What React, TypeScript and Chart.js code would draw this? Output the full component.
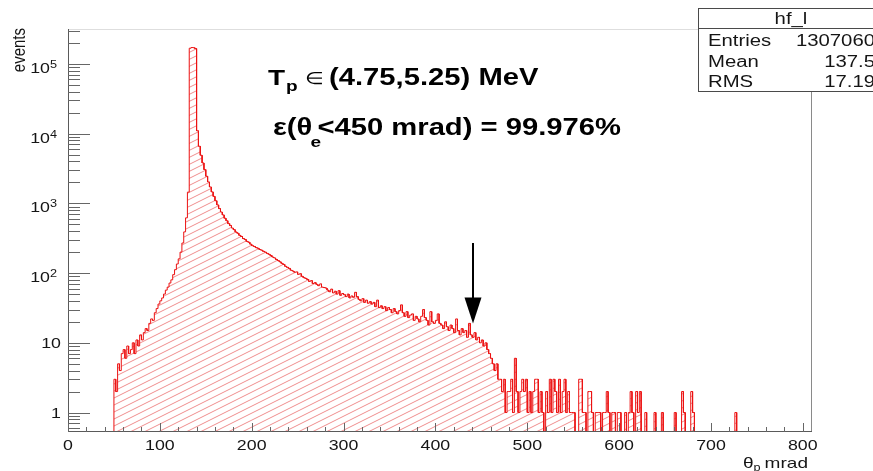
import { useEffect, useRef } from 'react';
import { Chart, registerables } from 'chart.js';

Chart.register(...registerables);

// ---- histogram binning (theta_p in mrad) ----
const BIN_WIDTH = 2;
const X_RANGE = [0, 810];
const Y_RANGE = [0.526, 3.17e5];

// counts per 2 mrad bin; each segment starts at its first bin's low edge
const risingStart = 50;
const risingCounts = [
  3, 2, 5, 4, 7, 8, 6, 9, 7, 8,
  10, 7, 11, 9, 13, 11, 14, 16, 15, 19,
  22, 21, 27, 31, 36, 40, 44, 50, 57, 63,
  72, 80, 95, 112, 135, 160, 200, 270, 390, 620,
  1450,
];
const peakStart = 132;
const peakCounts = [168000, 172000, 171000, 166000];
const shoulderStart = 140;
const shoulderCounts = [
  11000, 6600, 4900, 3800, 3050, 2450, 2030, 1720, 1460, 1260,
  1090, 950, 842, 752, 683, 612, 563, 512, 480, 443,
  420, 389, 373, 348, 335, 313, 304, 285, 277, 260,
];
const plateauStart = 200;
const plateauCounts = [
  247, 241, 232, 227, 218, 213, 205, 200, 192, 186,
  179, 170, 165, 157, 151, 145, 138, 133, 125, 121,
  117, 110, 107, 103, 104, 96, 98, 90, 86, 84,
  81, 76, 78, 71, 73, 69, 66, 70, 63, 62,
  61, 57, 54, 59, 52, 55, 50, 56, 48, 51,
];
const falloffStart = 300;
const falloffCounts = [
  49, 46, 50, 44, 47, 45, 53, 46, 42, 40,
  43, 38, 41, 37, 39, 36, 38, 33, 41, 32,
  34, 31, 33, 29, 32, 30, 27, 31, 28, 26,
  29, 35, 27, 24, 28, 23, 25, 26, 21, 24,
  22, 20, 24, 30, 23, 21, 18, 28, 20, 19,
  21, 26, 19, 18, 16, 20, 17, 15, 18, 16,
  14, 22, 15, 13, 16, 14, 15, 12, 19, 13,
  12, 14, 11, 12, 10, 11, 9, 10, 8, 7,
  6, 5,
];
// sparse tail: [bin low edge, count]
const tailBins: [number, number][] = [
  [464, 4], [466, 5], [468, 3], [470, 3], [472, 2], [474, 3], [476, 1], [478, 2],
  [480, 2], [482, 3], [484, 1], [486, 6], [488, 2], [490, 1], [492, 2], [494, 3],
  [496, 2], [498, 3], [500, 1], [502, 2], [504, 1], [506, 2], [508, 3], [510, 3],
  [512, 1], [514, 2], [516, 1], [520, 2], [522, 1], [524, 3], [526, 1], [528, 3],
  [530, 2], [532, 1], [534, 3], [536, 1], [538, 2], [540, 3], [542, 1], [544, 2],
  [546, 1], [548, 1], [550, 1], [556, 3], [558, 3], [560, 1], [562, 1], [566, 2],
  [568, 2], [570, 1], [574, 1], [576, 1], [578, 1], [582, 1], [584, 1], [586, 2],
  [588, 1], [592, 1], [594, 1], [598, 1], [600, 1], [606, 1], [610, 1], [612, 2],
  [614, 1], [618, 2], [620, 1], [622, 2], [628, 1], [638, 1], [646, 1], [660, 1],
  [668, 2], [670, 1], [678, 2], [680, 1], [726, 1],
];

// ---- axes ----
const X_TICKS = [0, 100, 200, 300, 400, 500, 600, 700, 800];
const X_TICK_LABELS = ['0', '100', '200', '300', '400', '500', '600', '700', '800'];
const X_MINOR_STEP = 20;
const Y_DECADES = [0, 1, 2, 3, 4, 5];
const SUPERSCRIPTS = ['⁰', '¹', '²', '³', '⁴', '⁵'];
const Y_TITLE = 'events';

// ---- annotations ----
const STATS_TITLE = 'hf_l';
const STATS_ROWS: [string, string][] = [
  ['Entries', '1307060'],
  ['Mean', '137.5'],
  ['RMS', '17.19'],
];
const CUT_ARROW_X = 441;
const CUT_ARROW_FROM = 270;
const CUT_ARROW_TO = 19;

const FAMILY = "'Liberation Sans', Arial, Helvetica, sans-serif";
const SX = 1.27; // horizontal text stretch
const LINE_COLOR = '#ec1212';
const HATCH_COLOR = 'rgba(230, 84, 84, 0.66)';
const TEXT_COLOR = '#151515';

function buildCounts(): number[] {
  const n = Math.round((X_RANGE[1] - X_RANGE[0]) / BIN_WIDTH);
  const c: number[] = new Array(n).fill(0);
  const place = (start: number, arr: number[]) =>
    arr.forEach((v, i) => {
      c[Math.round((start - X_RANGE[0]) / BIN_WIDTH) + i] = v;
    });
  place(risingStart, risingCounts);
  place(peakStart, peakCounts);
  place(shoulderStart, shoulderCounts);
  place(plateauStart, plateauCounts);
  place(falloffStart, falloffCounts);
  tailBins.forEach(([x, v]) => {
    c[Math.round((x - X_RANGE[0]) / BIN_WIDTH)] = v;
  });
  return c;
}

function makeHatch(): CanvasPattern | string {
  const w = 14;
  const h = 7;
  const c = document.createElement('canvas');
  c.width = w;
  c.height = h;
  const g = c.getContext('2d');
  if (!g) return HATCH_COLOR;
  g.strokeStyle = HATCH_COLOR;
  g.lineWidth = 1;
  for (const dy of [-h, 0, h]) {
    g.beginPath();
    g.moveTo(0, h + dy);
    g.lineTo(w, dy);
    g.stroke();
  }
  return g.createPattern(c, 'repeat') || HATCH_COLOR;
}

function font(size: number, bold = false) {
  return `${bold ? 'bold ' : ''}${size}px ${FAMILY}`;
}

function put(
  ctx: CanvasRenderingContext2D,
  s: string,
  x: number,
  y: number,
  f: string,
  align: 'left' | 'right' | 'center' = 'left',
  sx = SX,
): number {
  ctx.save();
  ctx.font = f;
  ctx.textAlign = 'left';
  ctx.textBaseline = 'alphabetic';
  const w = ctx.measureText(s).width * sx;
  const x0 = align === 'left' ? x : align === 'right' ? x - w : x - w / 2;
  ctx.translate(x0, y);
  ctx.scale(sx, 1);
  ctx.fillText(s, 0, 0);
  ctx.restore();
  return w;
}

function measure(ctx: CanvasRenderingContext2D, s: string, f: string, sx = SX) {
  ctx.save();
  ctx.font = f;
  const w = ctx.measureText(s).width * sx;
  ctx.restore();
  return w;
}

const rootStyle = {
  id: 'rootStyle',
  beforeDraw(chart: Chart) {
    const ctx = chart.ctx;
    ctx.save();
    ctx.fillStyle = '#ffffff';
    ctx.fillRect(0, 0, chart.width, chart.height);
    ctx.restore();
  },
  afterDraw(chart: Chart) {
    const ctx = chart.ctx;
    const xs = chart.scales.x;
    const ys = chart.scales.y;
    const { left, right, top, bottom } = chart.chartArea;
    ctx.save();

    // frame
    ctx.lineWidth = 1;
    ctx.strokeStyle = '#dedede';
    ctx.beginPath();
    ctx.moveTo(left, top + 0.5);
    ctx.lineTo(right, top + 0.5);
    ctx.stroke();
    ctx.strokeStyle = '#8a8a8a';
    ctx.beginPath();
    ctx.moveTo(right - 0.5, top);
    ctx.lineTo(right - 0.5, bottom);
    ctx.stroke();
    ctx.strokeStyle = '#5a5a5a';
    ctx.beginPath();
    ctx.moveTo(left + 0.5, top);
    ctx.lineTo(left + 0.5, bottom);
    ctx.moveTo(left, bottom - 0.5);
    ctx.lineTo(right, bottom - 0.5);
    ctx.stroke();

    // y ticks (log, inside the frame)
    ctx.strokeStyle = '#666666';
    ctx.beginPath();
    for (let k = -1; k <= 6; k++) {
      for (let m = 1; m <= 9; m++) {
        const v = m * Math.pow(10, k);
        if (v < Y_RANGE[0] || v > Y_RANGE[1]) continue;
        const py = Math.round(ys.getPixelForValue(v)) + 0.5;
        const len = m === 1 ? 22 : 12;
        ctx.moveTo(left, py);
        ctx.lineTo(left + len, py);
      }
    }
    // x ticks
    for (let v = X_RANGE[0]; v <= X_RANGE[1]; v += X_MINOR_STEP) {
      const px = Math.round(xs.getPixelForValue(v)) + 0.5;
      const len = X_TICKS.includes(v) ? 9 : 5;
      ctx.moveTo(px, bottom);
      ctx.lineTo(px, bottom - len);
    }
    ctx.stroke();

    // tick labels
    ctx.fillStyle = TEXT_COLOR;
    Y_DECADES.forEach((k) => {
      const py = ys.getPixelForValue(Math.pow(10, k));
      if (k === 0) {
        put(ctx, '1', 61, py + 5, font(14), 'right');
      } else if (k === 1) {
        put(ctx, '10', 61, py + 5, font(14), 'right');
      } else {
        const sup = SUPERSCRIPTS[k].normalize('NFKC');
        const supW = measure(ctx, sup, font(10));
        put(ctx, '10', 57 - supW, py + 9, font(14), 'right');
        put(ctx, sup, 57 - supW, py + 4, font(10), 'left');
      }
    });
    X_TICKS.forEach((v, i) => {
      put(ctx, X_TICK_LABELS[i], xs.getPixelForValue(v), 450, font(14), 'center');
    });

    // axis titles
    ctx.save();
    ctx.translate(25, top - 1);
    ctx.scale(SX, 1);
    ctx.rotate(-Math.PI / 2);
    ctx.font = font(15);
    ctx.textAlign = 'right';
    ctx.textBaseline = 'alphabetic';
    ctx.fillText(Y_TITLE, 0, 0);
    ctx.restore();

    const mradW = measure(ctx, 'mrad', font(15));
    const mradX = right - 4 - mradW;
    put(ctx, 'mrad', mradX, 468, font(15));
    const pW = measure(ctx, 'p', font(10));
    put(ctx, 'p', mradX - 4 - pW, 471, font(10));
    put(ctx, 'θ', mradX - 4 - pW, 468, font(15), 'right');

    // cut arrow
    const ax = Math.round(xs.getPixelForValue(CUT_ARROW_X));
    const ay0 = ys.getPixelForValue(CUT_ARROW_FROM);
    const ay1 = ys.getPixelForValue(CUT_ARROW_TO);
    const headLen = 26;
    ctx.strokeStyle = '#000000';
    ctx.fillStyle = '#000000';
    ctx.lineWidth = 2;
    ctx.beginPath();
    ctx.moveTo(ax, ay0);
    ctx.lineTo(ax, ay1 - headLen + 2);
    ctx.stroke();
    ctx.beginPath();
    ctx.moveTo(ax - 8.5, ay1 - headLen);
    ctx.lineTo(ax + 8.5, ay1 - headLen);
    ctx.lineTo(ax, ay1);
    ctx.closePath();
    ctx.fill();

    // energy window and efficiency labels
    ctx.fillStyle = '#000000';
    let tx = 268;
    tx += put(ctx, 'T', tx, 85, font(22, true));
    put(ctx, 'p', tx + 1, 91, font(15, true));
    put(ctx, '∈', 305, 84, font(17));
    put(ctx, '(4.75,5.25) MeV', 329, 85, font(23, true));

    let ex = 273;
    ex += put(ctx, 'ε(θ', ex, 135, font(23, true));
    put(ctx, 'e', ex - 2, 147, font(15, true));
    put(ctx, '<450 mrad) = 99.976%', ex + 5, 135, font(23, true));

    // statistics box
    const bx = 698.5;
    const by = 8.5;
    const bw = 200;
    const bh = 83;
    ctx.fillStyle = '#ffffff';
    ctx.fillRect(bx, by, bw, bh);
    ctx.strokeStyle = '#4a4a4a';
    ctx.lineWidth = 1;
    ctx.strokeRect(bx, by, bw, bh);
    ctx.beginPath();
    ctx.moveTo(bx, 28.5);
    ctx.lineTo(bx + bw, 28.5);
    ctx.stroke();
    ctx.fillStyle = TEXT_COLOR;
    put(ctx, STATS_TITLE, 791, 24, font(16), 'center');
    STATS_ROWS.forEach(([k, v], i) => {
      const base = 46 + i * 20.5;
      put(ctx, k, 708, base, font(16));
      put(ctx, v, 875, base, font(16), 'right');
    });

    ctx.restore();
  },
};

export default function App() {
  const ref = useRef<HTMLCanvasElement>(null);

  useEffect(() => {
    const canvas = ref.current;
    if (!canvas) return;
    const counts = buildCounts();
    const empty = Y_RANGE[0] / 10;
    const points: { x: number; y: number }[] = [];
    counts.forEach((v, i) => {
      const x0 = X_RANGE[0] + i * BIN_WIDTH;
      const y = v > 0 ? v : empty;
      points.push({ x: x0, y }, { x: x0 + BIN_WIDTH, y });
    });

    const chart = new Chart(canvas, {
      type: 'line',
      data: {
        datasets: [
          {
            label: STATS_TITLE,
            data: points,
            borderColor: LINE_COLOR,
            borderWidth: 1,
            backgroundColor: makeHatch(),
            fill: 'start',
            pointRadius: 0,
            tension: 0,
          },
        ],
      },
      options: {
        animation: false,
        responsive: false,
        events: [],
        layout: { autoPadding: false, padding: { left: 0, top: 29, right: 61, bottom: 0 } },
        plugins: { legend: { display: false }, tooltip: { enabled: false } },
        scales: {
          x: {
            type: 'linear',
            min: X_RANGE[0],
            max: X_RANGE[1],
            grid: { display: false },
            border: { display: false },
            ticks: { display: false },
            afterFit: (s: any) => {
              s.height = 39;
            },
          },
          y: {
            type: 'logarithmic',
            min: Y_RANGE[0],
            max: Y_RANGE[1],
            grid: { display: false },
            border: { display: false },
            ticks: { display: false },
            afterFit: (s: any) => {
              s.width = 68;
            },
          },
        },
      },
      plugins: [rootStyle],
    });
    return () => chart.destroy();
  }, []);

  return (
    <div style={{ position: 'fixed', left: 0, top: 0, width: 873, height: 471, background: '#fff' }}>
      <canvas ref={ref} width={873} height={471} style={{ display: 'block', width: 873, height: 471 }} />
    </div>
  );
}
